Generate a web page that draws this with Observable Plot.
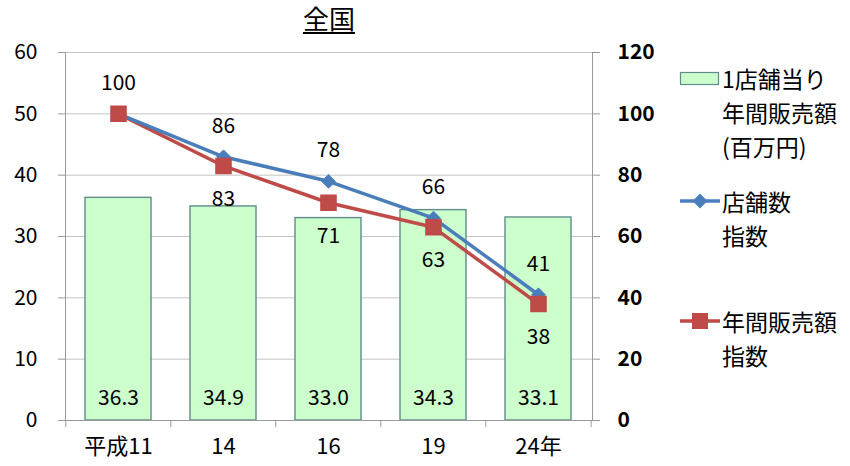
<!DOCTYPE html>
<html>
<head>
<meta charset="utf-8">
<script src="https://cdn.jsdelivr.net/npm/d3@7"></script>
<script src="https://cdn.jsdelivr.net/npm/@observablehq/plot@0.6"></script>
<style>
  body { margin: 0; background: #fff; }
  #wrap { position: relative; width: 850px; height: 466px; font-family: "Noto Sans CJK JP", "Noto Sans", sans-serif; color: #000; }
  #title { position: absolute; left: 0; top: 1px; width: 658px; text-align: center; font-size: 26px; line-height: 34px; text-decoration: underline; text-underline-offset: 3px; }
  #legend { position: absolute; left: 678px; top: 0; width: 172px; font-size: 23px; }
  .item { position: absolute; left: 0; }
  .item svg { position: absolute; left: 0; }
  .item .txt { position: absolute; left: 44px; line-height: 34px; white-space: nowrap; }
</style>
</head>
<body>
<div id="wrap">
  <div id="title">全国</div>
  <div id="legend"></div>
</div>
<script>
// Survey years (Heisei era) on the category axis
const years = ["平成11", "14", "16", "19", "24年"];
// Annual sales per store, million yen (left axis)
const salesPerStore = [36.3, 34.9, 33.0, 34.3, 33.1];
// Number-of-stores index, 平成11 = 100 (right axis)
const storeIndex = [100, 86, 78, 66, 41];
// Annual sales index, 平成11 = 100 (right axis)
const salesIndex = [100, 83, 71, 63, 38];
// Axis ticks
const leftTicks = [0, 10, 20, 30, 40, 50, 60];

const blue = "#4a7ebb";
const red = "#be4b48";
const barFill = "#ccffcc";
const barStroke = "#5f8c8a";

const rows = years.map((year, i) => ({
  year,
  sales: salesPerStore[i],
  store: storeIndex[i],
  salesIdx: salesIndex[i]
}));

// The right axis (0–120) is twice the left one (0–60), so index values share the y scale at half.
const half = v => v / 2;
const step = (850 - 65 - 258) / years.length;

const chart = Plot.plot({
  width: 850,
  height: 466,
  marginLeft: 65,
  marginRight: 258,
  marginTop: 52,
  marginBottom: 46,
  x: { domain: years, paddingInner: 0.37, paddingOuter: 0.185 },
  y: { domain: [0, 60] },
  style: { fontFamily: "'Noto Sans CJK JP', 'Noto Sans', sans-serif", fontSize: "21px", color: "#000", background: "transparent" },
  marks: [
    Plot.gridY(leftTicks, { stroke: "#c4c4c4", strokeOpacity: 1 }),
    Plot.frame({ anchor: "left", stroke: "#9a9a9a" }),
    Plot.frame({ anchor: "right", stroke: "#9a9a9a" }),
    Plot.axisY({ ticks: leftTicks, tickSize: 7, tickPadding: 21, label: null, stroke: "#9a9a9a", fontSize: 21 }),
    Plot.axisY({ anchor: "right", ticks: leftTicks, tickFormat: d => d * 2, tickSize: 7, tickPadding: 18, label: null, stroke: "#9a9a9a", fontSize: 21, fontWeight: "bold" }),
    Plot.barY(rows, { x: "year", y: "sales", fill: barFill, stroke: barStroke, strokeWidth: 1.4 }),
    Plot.ruleY([0], { stroke: "#9a9a9a" }),
    // category boundary ticks under the baseline
    Plot.ruleX(years, { x: d => d, y1: 0, y2: 0, dx: -step / 2, insetBottom: -7, stroke: "#9a9a9a" }),
    Plot.ruleX(years.slice(-1), { x: d => d, y1: 0, y2: 0, dx: step / 2, insetBottom: -7, stroke: "#9a9a9a" }),
    Plot.axisX({ tickSize: 0, tickPadding: 18, label: null, fontSize: 22 }),
    Plot.text(rows, { x: "year", y: 0, text: d => d.sales.toFixed(1), dy: -22, fontSize: 21 }),
    Plot.line(rows, { x: "year", y: d => half(d.salesIdx), stroke: red, strokeWidth: 3.5 }),
    Plot.line(rows, { x: "year", y: d => half(d.store), stroke: blue, strokeWidth: 3.5 }),
    Plot.dot(rows, { x: "year", y: d => half(d.store), symbol: "diamond2", r: 6.2, fill: blue, stroke: blue, strokeWidth: 1 }),
    Plot.dot(rows, { x: "year", y: d => half(d.salesIdx), symbol: "square", r: 8.5, fill: red, stroke: red }),
    Plot.text(rows, { x: "year", y: d => half(d.store), text: d => String(d.store), dy: -31, fontSize: 21 }),
    Plot.text(rows.slice(1), { x: "year", y: d => half(d.salesIdx), text: d => String(d.salesIdx), dy: 33, fontSize: 21 })
  ]
});
document.getElementById("wrap").prepend(chart);

// Legend
const legend = d3.select("#legend");
function item(top, lines, swatch) {
  const it = legend.append("div").attr("class", "item").style("top", top + "px");
  const svg = it.append("svg").attr("width", 44).attr("height", 20).style("top", "7px");
  swatch(svg);
  it.append("div").attr("class", "txt").html(lines.join("<br>"));
}
item(61, ["1店舗当り", "年間販売額", "(百万円)"], svg => {
  svg.append("rect").attr("x", 2.5).attr("y", 4.5).attr("width", 38).attr("height", 12)
    .attr("fill", barFill).attr("stroke", barStroke).attr("stroke-width", 1.2);
});
item(184, ["店舗数", "指数"], svg => {
  svg.append("line").attr("x1", 2).attr("x2", 42).attr("y1", 10).attr("y2", 10).attr("stroke", blue).attr("stroke-width", 3.5);
  svg.append("path").attr("d", "M22,2.5L29.5,10L22,17.5L14.5,10Z").attr("fill", blue);
});
item(304, ["年間販売額", "指数"], svg => {
  svg.append("line").attr("x1", 2).attr("x2", 42).attr("y1", 10).attr("y2", 10).attr("stroke", red).attr("stroke-width", 3.5);
  svg.append("rect").attr("x", 14).attr("y", 2).attr("width", 16).attr("height", 16).attr("fill", red);
});
</script>
</body>
</html>
